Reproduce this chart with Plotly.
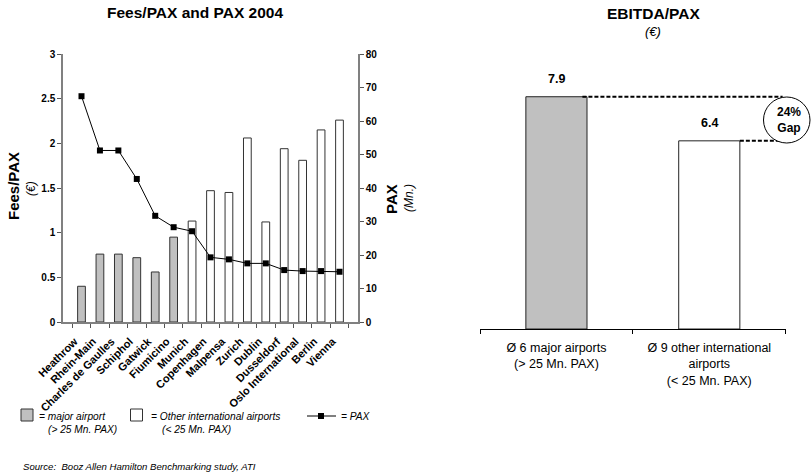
import plotly.graph_objects as go

W, H = 811, 474

# ---------------- data ----------------
airports = ["Heathrow", "Rhein-Main", "Charles de Gaulles", "Schiphol", "Gatwick",
            "Fiumicino", "Munich", "Copenhagen", "Malpensa", "Zurich", "Dublin",
            "Dusseldorf", "Oslo International", "Berlin", "Vienna"]
fees_per_pax = [0.40, 0.76, 0.76, 0.72, 0.56, 0.95, 1.13, 1.47, 1.45, 2.06, 1.12,
                1.94, 1.81, 2.15, 2.26]
pax_mn = [67.4, 51.2, 51.2, 42.7, 31.7, 28.3, 27.1, 19.3, 18.7, 17.5, 17.5,
          15.5, 15.2, 15.2, 15.0]
is_major = [True] * 6 + [False] * 9

fees_ticks = [0, 0.5, 1, 1.5, 2, 2.5, 3]
pax_ticks = [0, 10, 20, 30, 40, 50, 60, 70, 80]

groups = ["Ø 6 major airports<br>(> 25 Mn. PAX)",
          "Ø 9 other international<br>airports<br>(< 25 Mn. PAX)"]
ebitda_per_pax = [7.9, 6.4]
gap_label = "24%<br>Gap"

FONT = "Liberation Sans, Arial, sans-serif"
GREY_FILL = "#c0c0c0"
AXIS_GREY = "#808080"


def px_x(p):
    return p / W


def px_y(p):
    return 1 - p / H


fig = go.Figure()

# ---------------- left chart ----------------
fig.add_trace(go.Bar(
    x=airports, y=fees_per_pax, width=0.42,
    marker=dict(color=[GREY_FILL if m else "white" for m in is_major],
                line=dict(color="#333333", width=1)),
    xaxis="x", yaxis="y", showlegend=False))

fig.add_trace(go.Scatter(
    x=airports, y=pax_mn, mode="lines+markers",
    line=dict(color="black", width=1),
    marker=dict(symbol="square", size=6, color="black"),
    xaxis="x", yaxis="y2", showlegend=False))

# ---------------- right chart ----------------
fig.add_trace(go.Bar(
    x=groups, y=ebitda_per_pax, width=0.4,
    marker=dict(color=[GREY_FILL, "white"], line=dict(color="#222222", width=1)),
    xaxis="x2", yaxis="y3", showlegend=False))

left_dom_x = [px_x(63), px_x(358)]
left_dom_y = [px_y(322), px_y(54)]
right_dom_x = [px_x(480), px_x(785.7)]
right_dom_y = [px_y(329), px_y(64.4)]

tickfont_b = dict(family=FONT, size=10, color="black", weight="bold")

fig.update_layout(
    width=W, height=H, margin=dict(l=0, r=0, t=0, b=0, pad=0, autoexpand=False),
    paper_bgcolor="white", plot_bgcolor="white",
    font=dict(family=FONT, color="black"),
    xaxis=dict(domain=left_dom_x, anchor="y", type="category", automargin=False,
               showline=True, linecolor=AXIS_GREY, linewidth=1.5,
               ticks="outside", tickson="boundaries", ticklen=4, tickcolor="#555555",
               tickangle=-45, ticklabelstandoff=7, ticklabelshift=-7,
               tickfont=dict(family=FONT, size=11, color="black", weight="bold"),
               showgrid=False, zeroline=False),
    yaxis=dict(domain=left_dom_y, anchor="x", range=[0, 3], tickvals=fees_ticks,
               automargin=False,
               showline=True, linecolor=AXIS_GREY, linewidth=1.5,
               ticks="outside", ticklen=4, tickcolor="#555555",
               tickfont=tickfont_b, showgrid=False, zeroline=False),
    yaxis2=dict(overlaying="y", side="right", anchor="x", range=[0, 80],
                automargin=False,
                tickvals=pax_ticks, showline=True, linecolor=AXIS_GREY, linewidth=1.5,
                ticks="outside", ticklen=4, tickcolor="#555555",
                tickfont=tickfont_b, showgrid=False, zeroline=False),
    xaxis2=dict(domain=right_dom_x, anchor="y3", type="category", automargin=False,
                showline=True, linecolor="black", linewidth=1,
                ticks="outside", tickson="boundaries", ticklen=4, tickcolor="black",
                tickfont=dict(family=FONT, size=12.5, color="black"),
                ticklabelstandoff=7,
                showgrid=False, zeroline=False),
    yaxis3=dict(domain=right_dom_y, anchor="x2", range=[0, 9], visible=False,
                automargin=False, showgrid=False, zeroline=False),
)


def note(text, xp, yp, size, xanchor="center", angle=0):
    return dict(text=text, x=px_x(xp), y=px_y(yp), xref="paper", yref="paper",
                xanchor=xanchor, yanchor="middle", textangle=angle,
                showarrow=False, font=dict(family=FONT, size=size))


ann = []
# titles
ann.append(note("<b>Fees/PAX and PAX 2004</b>", 195, 12, 15.5))
ann.append(note("<b>EBITDA/PAX</b>", 653, 14, 15.5))
ann.append(note("<i>(€)</i>", 653, 32, 13))
# axis titles
ann.append(note("<b>Fees/PAX</b>", 13, 186, 15, angle=-90))
ann.append(note("<i>(€)</i>", 31, 189, 12, angle=-90))
ann.append(note("<b>PAX</b>", 391, 199, 15, angle=-90))
ann.append(note("<i>(Mn.)</i>", 409, 198, 12, angle=-90))

# bar value labels (right chart)
for g, v in zip(groups, ebitda_per_pax):
    ann.append(dict(text=f"<b>{v:.1f}</b>", x=g, y=v, xref="x2", yref="y3",
                    xanchor="center", yanchor="bottom", yshift=9, showarrow=False,
                    font=dict(family=FONT, size=12.5)))

# gap label
ann.append(note(f"<b>{gap_label}</b>", 789, 120, 12))

# legend texts
ann.append(note("<i>= major airport</i>", 37, 416.5, 10.2, xanchor="left"))
ann.append(note("<i>(> 25 Mn. PAX)</i>", 46, 429, 10.2, xanchor="left"))
ann.append(note("<i>= Other international airports</i>", 149, 416.5, 10.2, xanchor="left"))
ann.append(note("<i>(< 25 Mn. PAX)</i>", 160, 429, 10.2, xanchor="left"))
ann.append(note("<i>= PAX</i>", 339, 416.5, 10.2, xanchor="left"))
ann.append(note("<i>Source:  Booz Allen Hamilton Benchmarking study, ATI</i>", 21, 466, 9.6,
                xanchor="left"))
fig.update_layout(annotations=ann)

shapes = []
# legend symbols
shapes.append(dict(type="rect", xref="paper", yref="paper",
                   x0=px_x(21), x1=px_x(33), y0=px_y(421), y1=px_y(409),
                   fillcolor=GREY_FILL, line=dict(color="#333333", width=1)))
shapes.append(dict(type="rect", xref="paper", yref="paper",
                   x0=px_x(130.5), x1=px_x(142.5), y0=px_y(421), y1=px_y(409),
                   fillcolor="white", line=dict(color="#333333", width=1)))
shapes.append(dict(type="line", xref="paper", yref="paper",
                   x0=px_x(307), x1=px_x(336), y0=px_y(416), y1=px_y(416),
                   line=dict(color="black", width=1)))
shapes.append(dict(type="rect", xref="paper", yref="paper",
                   x0=px_x(318), x1=px_x(324), y0=px_y(419), y1=px_y(413),
                   fillcolor="black", line=dict(color="black", width=0)))

# dashed gap lines (right chart)
shapes.append(dict(type="line", xref="x2", yref="y3", x0=0.17, x1=1.48,
                   y0=ebitda_per_pax[0], y1=ebitda_per_pax[0],
                   line=dict(color="black", width=2, dash="4px,2px")))
shapes.append(dict(type="line", xref="x2", yref="y3", x0=1.2, x1=1.48,
                   y0=ebitda_per_pax[1], y1=ebitda_per_pax[1],
                   line=dict(color="black", width=2, dash="4px,2px")))
# ellipse
shapes.append(dict(type="circle", xref="paper", yref="paper",
                   x0=px_x(763.5), x1=px_x(810), y0=px_y(143), y1=px_y(97),
                   line=dict(color="black", width=1), fillcolor="white", layer="above"))
fig.update_layout(shapes=shapes)

fig.write_html("out.html")
